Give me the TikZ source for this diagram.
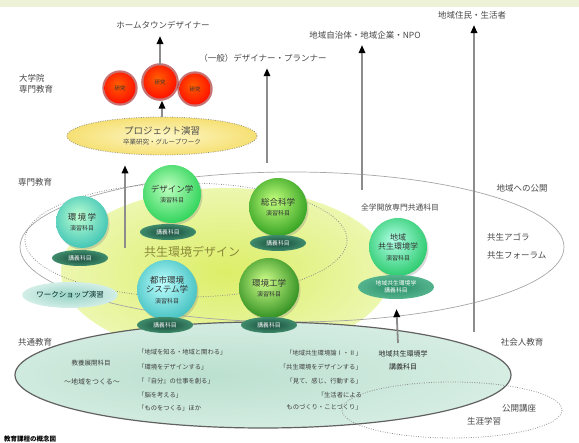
\documentclass[tikz,border=0pt]{standalone}
\usepackage{fontspec}
\setmainfont{Noto Sans CJK JP}
\usetikzlibrary{arrows.meta,shadows,shapes.geometric}
\definecolor{topband}{HTML}{EEF3D8}
\definecolor{glowA}{HTML}{DCEE68}
\definecolor{glowB}{HTML}{EAF6A6}
\definecolor{botA}{HTML}{BBE0D0}
\definecolor{botB}{HTML}{D8EEE4}
\definecolor{botC}{HTML}{F7FBF9}
\definecolor{lectA}{HTML}{17483A}
\definecolor{lectB}{HTML}{3F8C6C}
\definecolor{chlA}{HTML}{2A8E68}
\definecolor{chlB}{HTML}{54B48E}
\definecolor{wsA}{HTML}{98D3C5}
\definecolor{wsB}{HTML}{D2EEE7}
\definecolor{yelA}{HTML}{FDF7C6}
\definecolor{yelB}{HTML}{F6E074}
\definecolor{olive}{HTML}{8A8A3A}
\colorlet{sphin}{white}
\colorlet{sphmid}{gray}
\colorlet{sphout}{black}
\pgfdeclareradialshading{glowsh}{\pgfpoint{0bp}{0bp}}{color(0bp)=(glowA); color(22bp)=(glowB); color(50bp)=(white)}
\pgfdeclareradialshading{botsh}{\pgfpoint{-6bp}{0bp}}{color(0bp)=(botA); color(30bp)=(botB); color(50bp)=(botC); color(60bp)=(botC)}
\pgfdeclareradialshading[sphin,sphmid,sphout]{sph}{\pgfpoint{-4bp}{6bp}}{color(0bp)=(sphin); color(28bp)=(sphmid); color(50bp)=(sphout); color(62bp)=(sphout)}
\begin{document}
\begin{tikzpicture}[x=1pt,y=-1pt,
  lbl/.style={inner sep=0pt, text=black!72, font=\fontsize{8.5}{11}\selectfont},
  sm/.style={inner sep=0pt, text=black!75, font=\fontsize{6.3}{8}\selectfont},
  up/.style={draw=black!45, line width=1.8pt, -{Triangle[length=8pt,width=6.5pt,color=black]}},
  thinell/.style={draw=black!35, line width=0.7pt},
  dotell/.style={draw=black!45, line width=0.8pt, dash pattern=on 0.8pt off 1.6pt},
  lect/.style={ellipse, inner sep=0pt, minimum width=56pt, minimum height=16pt, shading=radial, inner color=lectA, outer color=lectB, text=white, font=\fontsize{5.8}{7}\selectfont},
  sphere/.style n args={3}{circle, inner sep=0pt, minimum size=#1,
     /utils/exec={\colorlet{sphin}{#2}\colorlet{sphout}{#3}\colorlet{sphmid}{#2!45!#3}},
     shading=sph, shade, drop shadow={shadow xshift=1.5pt, shadow yshift=-2pt, opacity=.3},
     align=center, text=black!80, font=\fontsize{6}{9.5}\selectfont},
  kenkyu/.style={circle, inner sep=0pt, minimum size=#1,
     /utils/exec={\colorlet{sphin}{orange!75!red}\colorlet{sphout}{red!80!black}\colorlet{sphmid}{red!85!orange}},
     shading=sph, shade, drop shadow={shadow xshift=0pt, shadow yshift=0pt, shadow scale=1.14, opacity=.55, fill=red!60!black},
     text=black!80, font=\fontsize{5.5}{7}\selectfont}
]
\useasboundingbox (0,0) rectangle (579,443);
\fill[topband] (0,0) rectangle (579,7);
% background glow
\shade[shading=glowsh] (226,272) ellipse [x radius=165, y radius=84];
% big ellipses
\draw[thinell] (292,247) ellipse [x radius=272, y radius=75];
\shadedraw[shading=botsh, draw=black!62, line width=1.2pt] (263,375) ellipse [x radius=248, y radius=53];
\draw[dotell] (186,240) ellipse [x radius=161, y radius=57];
\draw[dotell] (452,410) ellipse [x radius=110, y radius=28];

% top labels
\node[lbl] (ht) at (163,25) {ホームタウンデザイナー};
\node[lbl] (gen) at (263,58) {（一般）デザイナー・プランナー};
\node[lbl] (npo) at (365,35) {地域自治体・地域企業・NPO};
\node[lbl] (jumin) at (472,15) {地域住民・生活者};
% left labels
\node[lbl, anchor=west, align=left] (daigakuin) at (19,84) {大学院\\専門教育};
\node[lbl, anchor=west] (senmon) at (18,182) {専門教育};
\node[lbl, anchor=west] (kyotsu) at (18,342) {共通教育};
\node[anchor=west, inner sep=0pt, text=black, font=\fontsize{6.5}{8}\selectfont\bfseries] (cap) at (4,439) {教育課程の概念図};
% right labels
\node[lbl] (kokai) at (522,188) {地域への公開};
\node[lbl, anchor=west] (agora) at (487,237) {共生アゴラ};
\node[lbl, anchor=west] (forum) at (487,255) {共生フォーラム};
\node[lbl] (shakai) at (522,342) {社会人教育};
\node[lbl] (kokaikoza) at (519,408) {公開講座};
\node[lbl] (shogai) at (484,421) {生涯学習};
\node[lbl, font=\fontsize{7.8}{9}\selectfont] (zengaku) at (400,208) {全学開放専門共通科目};

% research circles
\node[kenkyu=31pt] (kenA) at (120,88) {研究};
\node[kenkyu=31pt] (kenC) at (195,89) {研究};
\node[kenkyu=33pt] (kenB) at (160,82) {研究};

% project ellipse
\node[ellipse, inner sep=0pt, minimum width=190pt, minimum height=38pt, shading=radial, inner color=yelA, outer color=yelB, draw=black!45, line width=0.8pt, dash pattern=on 0.8pt off 1.6pt, align=center, text=black!70, font=\fontsize{6.5}{8}\selectfont] (yproj) at (162,136) {{\fontsize{9.5}{11}\selectfont プロジェクト演習}\\[2pt]卒業研究・グループワーク};

% central title
\node[inner sep=0pt, text=olive, font=\fontsize{12}{14}\selectfont] (kyosei) at (192,252) {共生環境デザイン};

% workshop
\node[ellipse, inner sep=0pt, minimum width=92pt, minimum height=26pt, shading=radial, inner color=wsA, outer color=wsB, text=black!70!teal, font=\fontsize{7.5}{9}\selectfont] (ws) at (70,295) {ワークショップ演習};

% spheres
\node[sphere={52pt}{cyan!30!green!25!white}{teal!80!cyan}] (kank) at (82,222) {{\fontsize{8.5}{10}\selectfont 環\,境\,学}\\[1pt]演習科目};
\node[lect] (kankL) at (80,258) {講義科目};
\node[sphere={58pt}{green!25!white}{teal!60!green}] (desi) at (172,194) {{\fontsize{8.5}{10}\selectfont デザイン学}\\[1pt]演習科目};
\node[lect] (desiL) at (168,232) {講義科目};
\node[sphere={58pt}{green!45!yellow!50!white}{green!65!black}] (sogo) at (278,207) {{\fontsize{8.5}{10}\selectfont 総合科学}\\[1pt]演習科目};
\node[lect] (sogoL) at (278,243) {講義科目};
\node[sphere={60pt}{cyan!25!white}{teal!85!cyan}] (toshi) at (167,290) {{\fontsize{8.5}{10}\selectfont 都市環境}\\{\fontsize{8.5}{10}\selectfont システム学}\\[1pt]演習科目};
\node[lect] (toshiL) at (165,325) {講義科目};
\node[sphere={60pt}{green!40!yellow!45!white}{green!58!black}] (kogaku) at (269,288) {{\fontsize{8.5}{10}\selectfont 環境工学}\\[1pt]演習科目};
\node[lect] (kogakuL) at (269,325) {講義科目};
\node[sphere={58pt}{green!30!cyan!30!white}{green!60!teal}] (chsph) at (398,247) {{\fontsize{8}{9}\selectfont 地域}\\{\fontsize{8}{9}\selectfont 共生環境学}\\[1pt]演習科目};
\node[ellipse, inner sep=0pt, minimum width=76pt, minimum height=24pt, shading=radial, inner color=chlA, outer color=chlB, text=white, align=center, font=\fontsize{5.8}{7.5}\selectfont] (chL) at (396,287) {地域共生環境学\\講義科目};

% bottom texts
\node[sm, font=\fontsize{6.5}{8}\selectfont] (kyoyo) at (91,363) {教養展開科目};
\node[sm, font=\fontsize{7}{8}\selectfont] (tsukuru) at (92,382) {〜地域をつくる〜};
\node[sm, anchor=west] (l1) at (138,352) {「地域を知る・地域と関わる」};
\node[sm, anchor=west] (l2) at (138,367) {「環境をデザインする」};
\node[sm, anchor=west] (l3) at (138,381) {「『自分』の仕事を創る」};
\node[sm, anchor=west] (l4) at (138,395) {「脳を考える」};
\node[sm, anchor=west] (l5) at (138,408) {「ものをつくる」ほか};
\node[sm, anchor=east] (r1) at (362,353) {「地域共生環境論Ⅰ・Ⅱ」};
\node[sm, anchor=east] (r2) at (362,367) {「共生環境をデザインする」};
\node[sm, anchor=east] (r3) at (362,381) {「見て、感じ、行動する」};
\node[sm, anchor=east] (r4) at (362,395) {「生活者による};
\node[sm, anchor=east] (r5) at (362,407) {ものづくり・ことづくり」};
\node[sm, align=center, text=black!85, font=\fontsize{7}{13}\selectfont] (chkL) at (403,360) {地域共生環境学\\講義科目};

% arrows
\coordinate (a2s) at (267,163);
\coordinate (a3s) at (362,190);
\coordinate (a4s) at (474,332);
\coordinate (a6s) at (125,248);
\coordinate (a7s) at (398,343);
\draw[up, shorten >=7pt] (kenB.north) -- (kenB.north |- ht.south);
\draw[up, shorten >=6pt] (a2s) -- (a2s |- gen.south);
\draw[up, shorten >=6pt] (a3s) -- (a3s |- npo.south);
\draw[up, shorten >=6pt] (a4s) -- (a4s |- jumin.south);
\draw[up, shorten >=2pt] (yproj.north) -- (yproj.north |- kenB.south);
\draw[up, shorten >=10pt] (a6s) -- (a6s |- yproj.south);
\draw[up, shorten >=10pt] (a7s) -- (chL.south);
\end{tikzpicture}
\end{document}
